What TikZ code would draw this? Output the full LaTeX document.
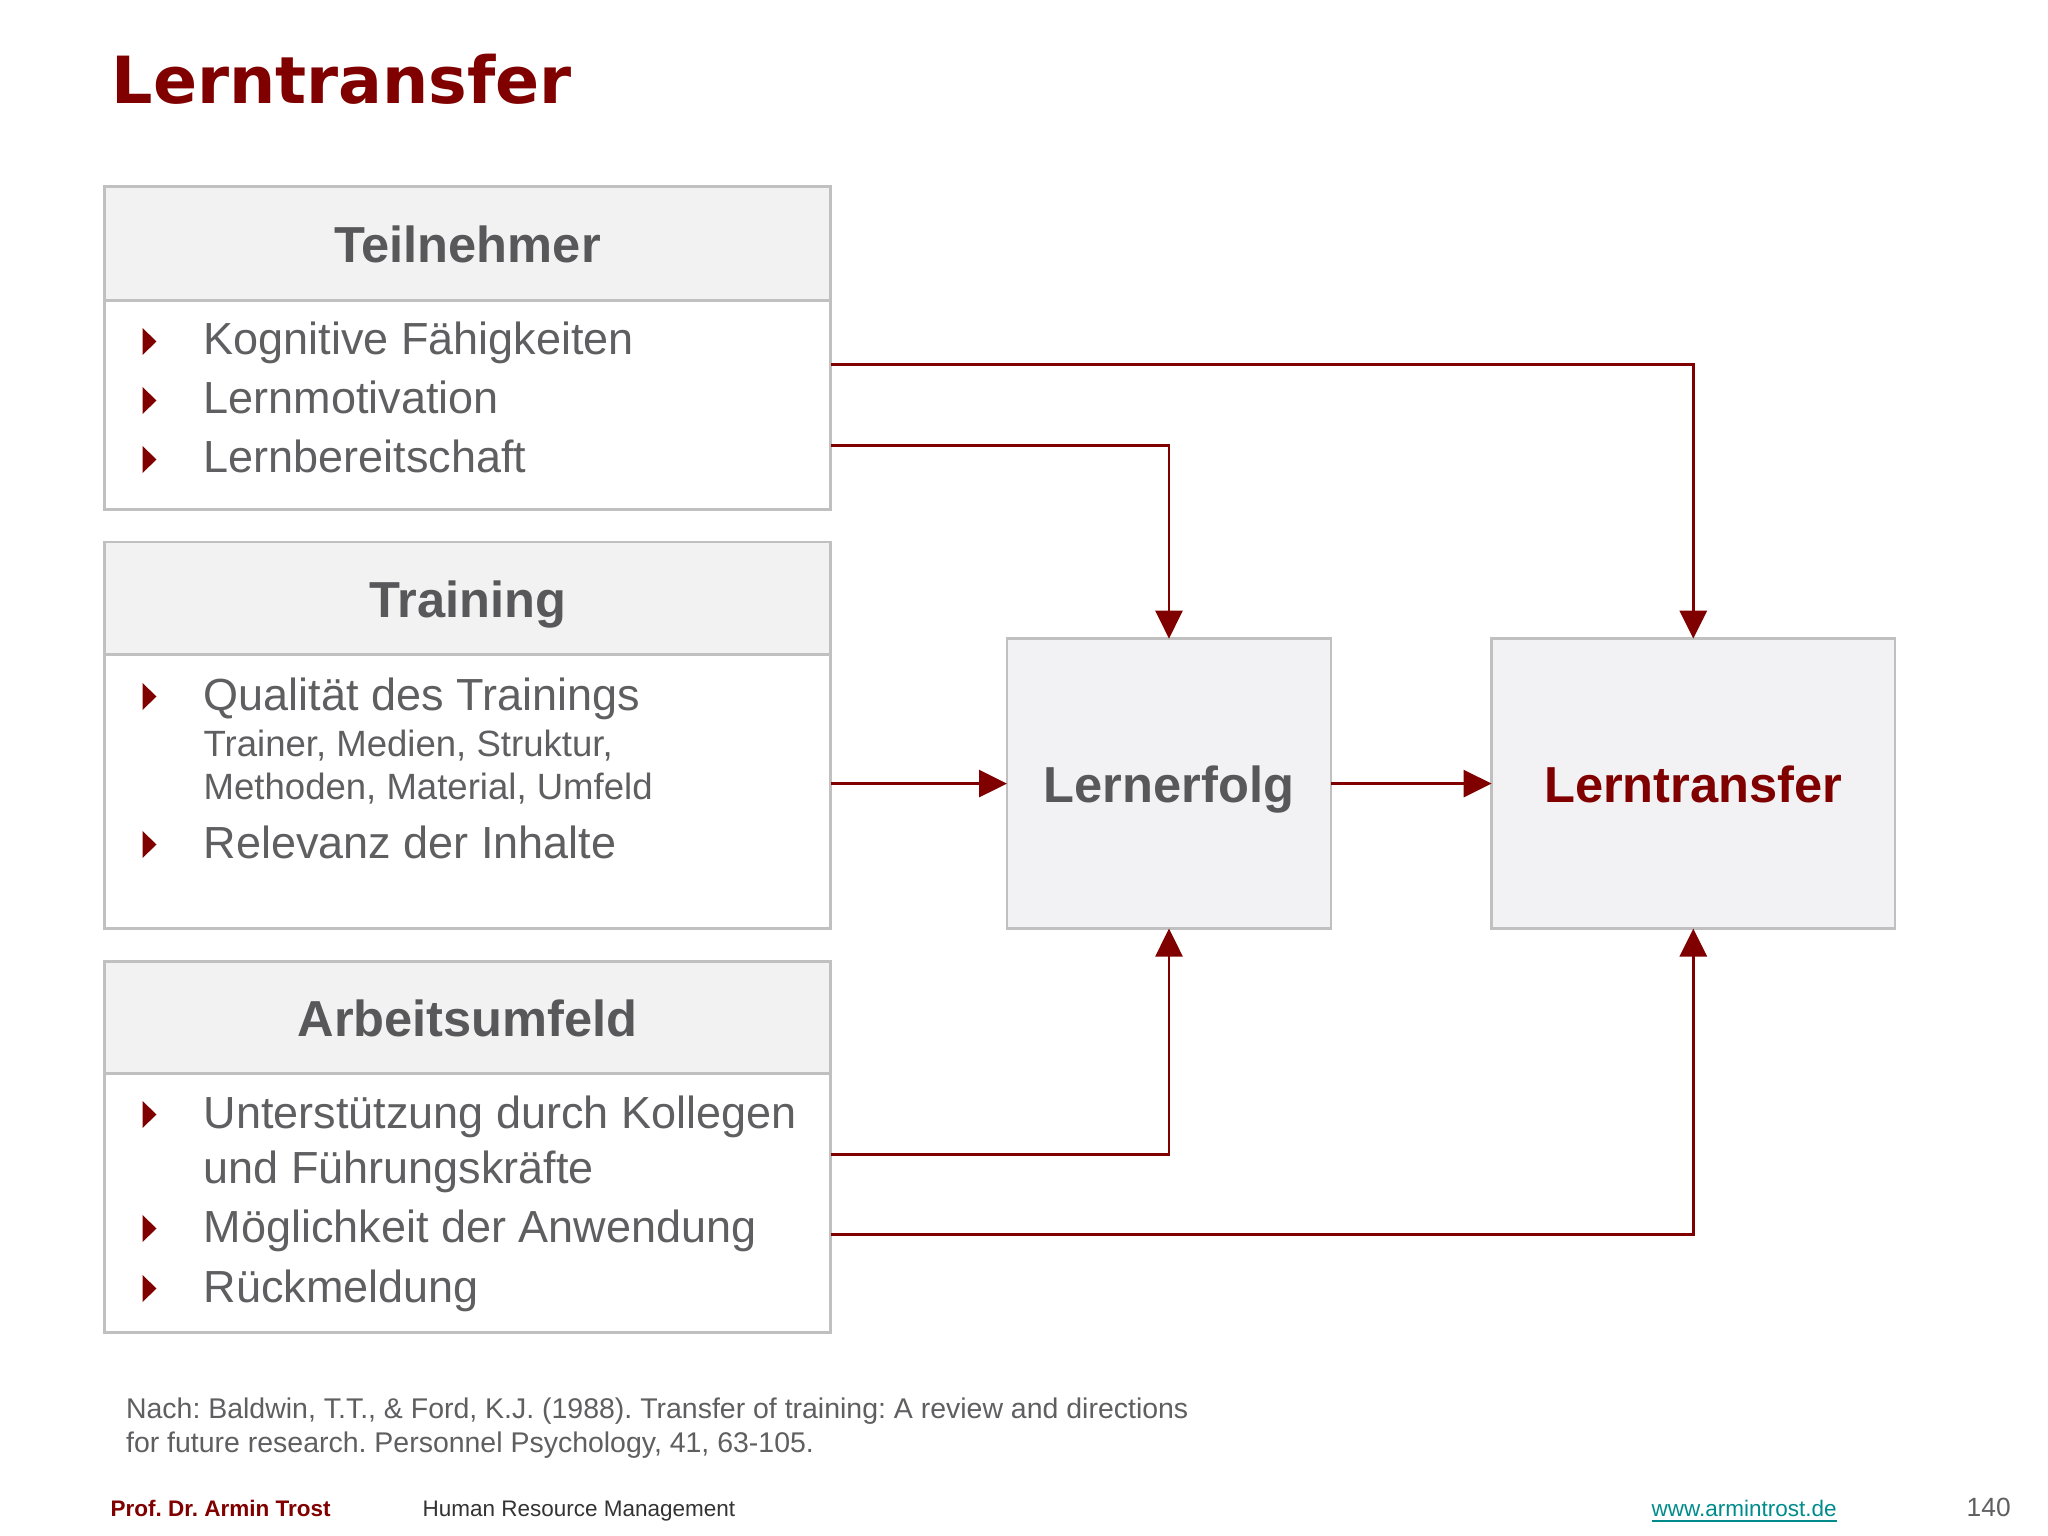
\documentclass[tikz,border=0pt]{standalone}
\usepackage{fontspec}
\setmainfont{Liberation Sans}
\newfontfamily\titlefont{DejaVu Sans}
\usepackage{tikz}
\usetikzlibrary{shapes.geometric, arrows.meta}
\definecolor{hrred}{RGB}{128,0,0}
\definecolor{txtgray}{RGB}{95,95,97}
\definecolor{headgray}{RGB}{88,88,90}
\definecolor{linegray}{RGB}{192,192,192}
\definecolor{headfill}{RGB}{242,242,242}
\definecolor{boxfill}{RGB}{242,241,243}
\definecolor{linkteal}{RGB}{0,140,140}
\frenchspacing
\newcommand{\itemfont}{\fontsize{12.8pt}{15pt}\selectfont}
\newcommand{\subfont}{\fontsize{10.4pt}{12pt}\selectfont}
\newcommand{\headfont}{\fontsize{14.4pt}{17pt}\selectfont\bfseries}
\newcommand{\bulletmark}[1]{\fill[hrred] (1.425,-#1) -- ++(0,0.27) -- ++(0.14,-0.135) -- cycle;}
\tikzstyle{header} = [rectangle, minimum width=7.262cm, text height=0.38cm, text depth=0pt, draw=linegray, line width=0.8pt, outer sep=0pt, fill=headfill, text=headgray, font=\headfont, anchor=north west]
\tikzstyle{listbox} = [rectangle, minimum width=7.262cm, draw=linegray, line width=0.8pt, outer sep=0pt, fill=white, anchor=north]
\tikzstyle{result} = [rectangle, minimum height=2.899cm, text height=0.38cm, text depth=0pt, draw=linegray, line width=0.8pt, outer sep=0pt, fill=boxfill, font=\headfont]
\tikzstyle{item} = [anchor=base west, inner sep=0pt, text=txtgray, font=\itemfont]
\tikzstyle{subitem} = [anchor=base west, inner sep=0pt, text=txtgray, font=\subfont]
\tikzstyle{note} = [anchor=base west, inner sep=0pt, text=txtgray, font=\fontsize{8.1pt}{9.5pt}\selectfont]
\tikzstyle{foot} = [anchor=base west, inner sep=0pt, font=\fontsize{6.4pt}{8pt}\selectfont]
\tikzstyle{arrow} = [line width=0.8pt, draw=hrred, ->, >={Triangle[length=2.8mm, width=2.7mm]}]

\begin{document}
\begin{tikzpicture}
\fill[white] (0,0) rectangle (20.48,-15.36);
\useasboundingbox (0,0) rectangle (20.48,-15.36);
% title
\node (title) [anchor=base west, inner sep=0pt, text=hrred, font=\titlefont\bfseries\fontsize{18.5pt}{22pt}\selectfont] at (1.11,-1.04) {Lerntransfer};

% left column
\node (tn) [header, minimum height=1.136cm] at (1.045,-1.868) {Teilnehmer};
\node (tnbody) [listbox, minimum height=2.09cm] at (tn.south) {};
\node (tr) [header, minimum height=1.124cm] at (1.045,-5.42) {Training};
\node (trbody) [listbox, minimum height=2.742cm] at (tr.south) {};
\node (au) [header, minimum height=1.123cm] at (1.045,-9.613) {Arbeitsumfeld};
\node (aubody) [listbox, minimum height=2.586cm] at (au.south) {};

\node (kog) [item] at (2.03,-3.55) {Kognitive Fähigkeiten};
\node (motiv) [item] at (2.03,-4.14) {Lernmotivation};
\node (bereit) [item] at (2.03,-4.73) {Lernbereitschaft};
\node (qual) [item] at (2.03,-7.10) {Qualität des Trainings};
\node (qualsub) [subitem] at (2.03,-7.56) {Trainer, Medien, Struktur,};
\node (qualsubb) [subitem] at (2.03,-8.00) {Methoden, Material, Umfeld};
\node (relev) [item] at (2.03,-8.58) {Relevanz der Inhalte};
\node (unterst) [item] at (2.03,-11.28) {Unterstützung durch Kollegen};
\node (unterstb) [item] at (2.03,-11.83) {und Führungskräfte};
\node (moegl) [item] at (2.03,-12.42) {Möglichkeit der Anwendung};
\node (rueck) [item] at (2.03,-13.02) {Rückmeldung};
\foreach \y in {3.55,4.14,4.73,7.10,8.58,11.28,12.42,13.02} {\bulletmark{\y}}

% right side
\node (erfolg) [result, minimum width=3.24cm, text=headgray] at (11.69,-7.836) {Lernerfolg};
\node (transfer) [result, minimum width=4.034cm, text=hrred] at (16.933,-7.836) {Lerntransfer};

\draw [arrow] ([yshift=0.405cm]tnbody.east) -| (transfer.north);
\draw [arrow] ([yshift=-0.405cm]tnbody.east) -| (erfolg.north);
\draw [arrow] (trbody.east |- erfolg.west) -- (erfolg.west);
\draw [arrow] (erfolg.east) -- (transfer.west);
\draw [arrow] ([yshift=0.483cm]aubody.east) -| (erfolg.south);
\draw [arrow] ([yshift=-0.314cm]aubody.east) -| (transfer.south);

% source and footer
\node (src) [note] at (1.254,-14.18) {Nach: Baldwin, T.T., \& Ford, K.J. (1988). Transfer of training: A review and directions};
\node (srcb) [note] at (1.254,-14.52) {for future research. Personnel Psychology, 41, 63-105.};
\node (prof) [foot, text=hrred, font=\fontsize{6.4pt}{8pt}\selectfont\bfseries] at (1.10,-15.16) {Prof. Dr. Armin Trost};
\node (hrm) [foot, text=black!80] at (4.22,-15.16) {Human Resource Management};
\node (web) [foot, text=linkteal] at (16.51,-15.16) {\underline{www.armintrost.de}};
\node (page) [foot, text=txtgray, font=\fontsize{7.5pt}{9pt}\selectfont] at (19.66,-15.16) {140};
\end{tikzpicture}
\end{document}
